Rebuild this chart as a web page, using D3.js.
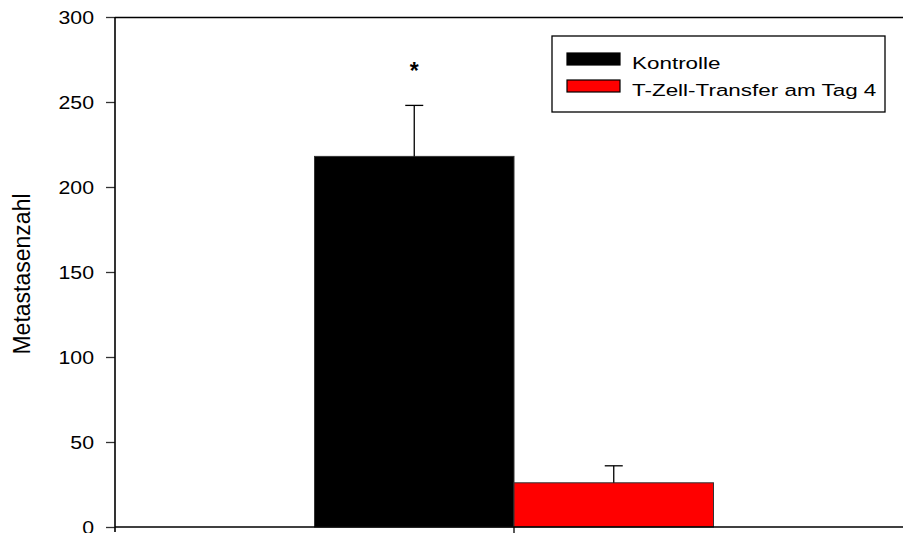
<!DOCTYPE html>
<html>
<head>
<meta charset="utf-8">
<script src="https://cdn.jsdelivr.net/npm/d3@7"></script>
<style>
  html, body { margin: 0; padding: 0; background: #fff; }
  svg { display: block; font-family: "Liberation Sans", Arial, sans-serif; }
</style>
</head>
<body>
<svg id="chart" width="903" height="533"></svg>
<script>
// ---- data ----
const groups = ["Tag 4"];
const seriesNames = ["Kontrolle", "T-Zell-Transfer am Tag 4"];
const seriesMeans = [218, 26];
const seriesErrors = [30, 10];
const seriesColors = ["#000000", "#ff0000"];
const significance = ["*", ""];
const yTicks = [0, 50, 100, 150, 200, 250, 300];
const yLabel = "Metastasenzahl";

// ---- layout ----
const W = 903, H = 533;
const mLeft = 115, mTop = 17, mRight = 913, mBottom = 527;
const tickStretch = 1.12, legendStretch = 1.36;

const svg = d3.select("#chart");

const y = d3.scaleLinear().domain([0, 300]).range([mBottom, mTop]);
const x0 = d3.scaleBand().domain(groups).range([mLeft, mRight]).paddingInner(0).paddingOuter(0.5);
const x1 = d3.scaleBand().domain(seriesNames).range([0, x0.bandwidth()]).padding(0);

// top frame line
svg.append("line")
  .attr("x1", mLeft).attr("x2", W).attr("y1", mTop + 0.5).attr("y2", mTop + 0.5)
  .attr("stroke", "#000").attr("stroke-width", 1.3);

// bars
const data = seriesNames.map((s, i) => ({ s, m: seriesMeans[i], e: seriesErrors[i], c: seriesColors[i], sig: significance[i] }));
const g = svg.append("g").attr("transform", `translate(${x0(groups[0])},0)`);

g.selectAll("rect.bar").data(data).join("rect")
  .attr("class", "bar")
  .attr("x", d => x1(d.s))
  .attr("y", d => y(d.m))
  .attr("width", x1.bandwidth())
  .attr("height", d => y(0) - y(d.m))
  .attr("fill", d => d.c)
  .attr("stroke", "#333").attr("stroke-width", 1);

// error bars (upper only)
const cap = 9;
g.selectAll("line.err").data(data).join("line")
  .attr("class", "err")
  .attr("x1", d => x1(d.s) + x1.bandwidth() / 2)
  .attr("x2", d => x1(d.s) + x1.bandwidth() / 2)
  .attr("y1", d => y(d.m))
  .attr("y2", d => y(d.m + d.e))
  .attr("stroke", "#000").attr("stroke-width", 1.3);
g.selectAll("line.cap").data(data).join("line")
  .attr("class", "cap")
  .attr("x1", d => x1(d.s) + x1.bandwidth() / 2 - cap)
  .attr("x2", d => x1(d.s) + x1.bandwidth() / 2 + cap)
  .attr("y1", d => y(d.m + d.e))
  .attr("y2", d => y(d.m + d.e))
  .attr("stroke", "#000").attr("stroke-width", 1.3);

// significance star
g.selectAll("text.sig").data(data.filter(d => d.sig)).join("text")
  .attr("class", "sig")
  .attr("x", d => x1(d.s) + x1.bandwidth() / 2)
  .attr("y", d => y(d.m + d.e) - 26)
  .attr("text-anchor", "middle")
  .attr("font-size", 23).attr("font-weight", "bold")
  .text(d => d.sig);

// y axis
const yAxis = d3.axisLeft(y).tickValues(yTicks).tickSize(9).tickPadding(11);
const ya = svg.append("g").attr("transform", `translate(${mLeft},0)`).call(yAxis);
ya.select(".domain").remove();
ya.append("line").attr("x1", 0).attr("x2", 0).attr("y1", mTop).attr("y2", mBottom + 5)
  .attr("stroke", "#000").attr("stroke-width", 1.6);
ya.selectAll(".tick line").attr("stroke", "#333").attr("stroke-width", 1.3);
ya.selectAll(".tick text")
  .attr("font-size", 19).attr("fill", "#000")
  .attr("font-family", "Liberation Sans, Arial, sans-serif")
  .attr("x", -21 / tickStretch)
  .attr("transform", `scale(${tickStretch},1)`);

// x axis
const xAxis = d3.axisBottom(x0).tickSize(6).tickFormat("");
const xa = svg.append("g").attr("transform", `translate(0,${mBottom})`).call(xAxis);
xa.select(".domain").remove();
xa.append("line").attr("x1", mLeft).attr("x2", W).attr("y1", 0).attr("y2", 0)
  .attr("stroke", "#000").attr("stroke-width", 1.6);
xa.selectAll(".tick line").attr("stroke", "#000").attr("stroke-width", 1.3);

// y label
svg.append("text")
  .attr("transform", `translate(30,274) rotate(-90)`)
  .attr("text-anchor", "middle")
  .attr("font-size", 23)
  .text(yLabel);

// legend
const lg = svg.append("g").attr("transform", "translate(552,36)");
lg.append("rect").attr("x", 0).attr("y", 0).attr("width", 333).attr("height", 76)
  .attr("fill", "#fff").attr("stroke", "#000").attr("stroke-width", 1.3);
const items = lg.selectAll("g.item").data(data).join("g").attr("class", "item")
  .attr("transform", (d, i) => `translate(15,${17 + i * 27})`);
items.append("rect").attr("width", 53).attr("height", 12)
  .attr("fill", d => d.c).attr("stroke", "#000").attr("stroke-width", 1.2);
items.append("text")
  .attr("transform", `translate(65,15.5) scale(${legendStretch},1)`)
  .attr("font-size", 16.5)
  .text(d => d.s);
</script>
</body>
</html>
